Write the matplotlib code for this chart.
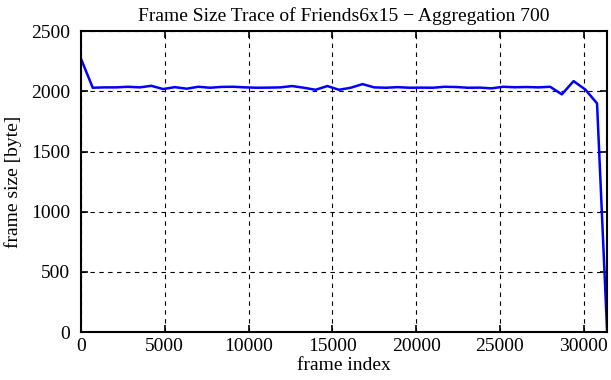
import matplotlib
matplotlib.use("Agg")
import matplotlib.pyplot as plt

frame_index = [0, 700, 1400, 2100, 2800, 3500, 4200, 4900, 5600, 6300, 7000, 7700,
               8400, 9100, 9800, 10500, 11200, 11900, 12600, 13300, 14000, 14700,
               15400, 16100, 16800, 17500, 18200, 18900, 19600, 20300, 21000, 21700,
               22400, 23100, 23800, 24500, 25200, 25900, 26600, 27300, 28000, 28700,
               29400, 30100, 30800, 31400]
frame_size = [2270, 2030, 2033, 2033, 2038, 2033, 2046, 2019, 2035, 2022, 2038, 2030,
              2037, 2038, 2033, 2030, 2031, 2033, 2044, 2030, 2013, 2044,
              2013, 2030, 2060, 2033, 2030, 2035, 2030, 2031, 2030, 2038,
              2036, 2030, 2031, 2025, 2038, 2034, 2036, 2033, 2038, 1975,
              2085, 2015, 1900, 10]
xticks = [0, 5000, 10000, 15000, 20000, 25000, 30000]
yticks = [0, 500, 1000, 1500, 2000, 2500]

plt.rcParams['font.family'] = ['Liberation Serif', 'DejaVu Serif']
fig = plt.figure(figsize=(6.11, 3.8), dpi=100)
ax = fig.add_axes([0.1326, 0.126, 0.861, 0.792])
ax.plot(frame_index, frame_size, color='#0000ff', linewidth=1.8)
ax.set_xlim(0, 31400)
ax.set_ylim(0, 2500)
ax.set_xticks(xticks)
ax.set_yticks(yticks)
ax.grid(True, color='black', linestyle=(0, (4, 4)), linewidth=0.8)
ax.tick_params(direction='in', top=True, right=True, length=5, width=1.2,
               labelsize=14)
ax.tick_params(axis='x', pad=4)
ax.tick_params(axis='y', pad=8)
for s in ax.spines.values():
    s.set_linewidth(1.5)
ax.set_xlabel('frame index', fontsize=14, labelpad=2)
ax.set_ylabel('frame size [byte]', fontsize=14, labelpad=6)
ax.set_title('Frame Size Trace of Friends6x15 \u2212 Aggregation 700', fontsize=14, pad=7)
fig.savefig('out.png', dpi=100)
